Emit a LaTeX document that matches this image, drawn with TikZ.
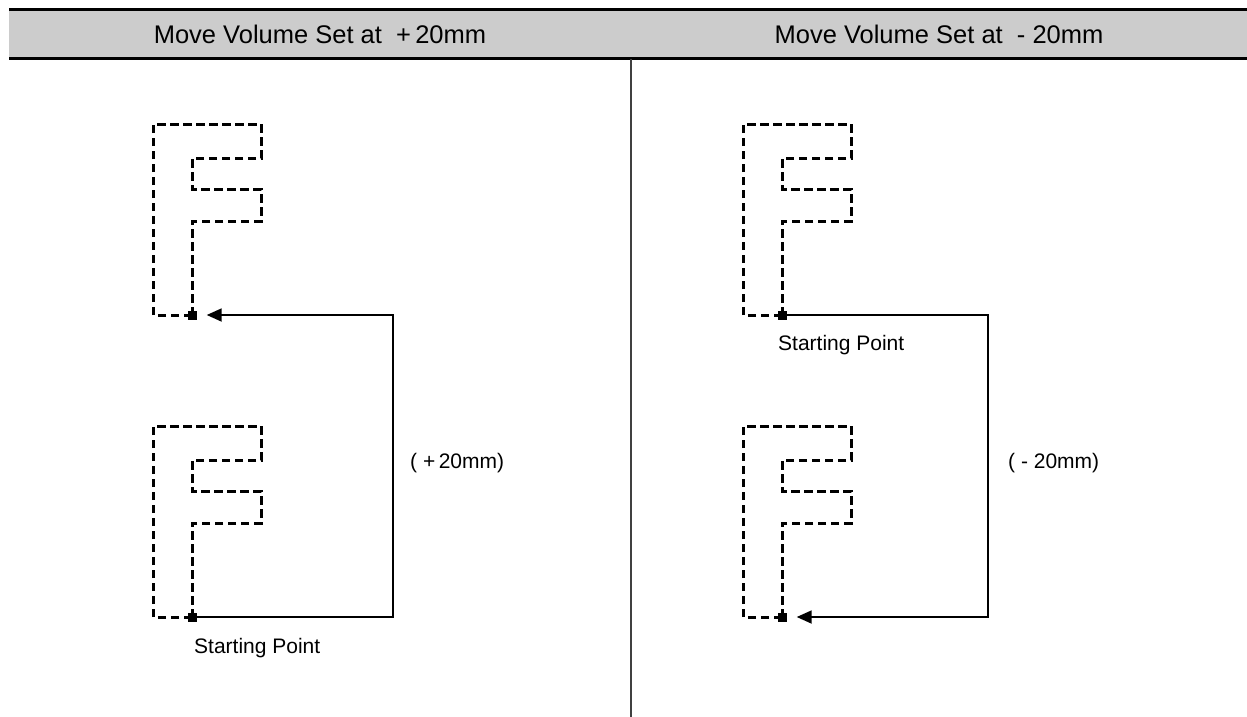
\documentclass[tikz,border=0pt]{standalone}
\usepackage{fontspec}
\setmainfont{Liberation Sans}
\usetikzlibrary{arrows.meta}
\newcommand{\fpath}[1]{\draw[fline] (#1) -- ++(-39,0) -- ++(0,-191) -- ++(108,0) -- ++(0,34) -- ++(-69,0) -- ++(0,31) -- ++(69,0) -- ++(0,32) -- ++(-69,0) -- cycle;}
\begin{document}
\begin{tikzpicture}[x=1pt, y=-1pt,
    fline/.style={line width=3pt, dash pattern=on 8.5pt off 4.5pt},
    spot/.style={rectangle, fill, minimum size=9pt, inner sep=0pt},
    link/.style={line width=1.8pt, -{Triangle[length=15pt,width=13pt]}, shorten >=10pt},
    head/.style={font=\fontsize{25.5}{30}\selectfont},
    note/.style={font=\fontsize{21}{25}\selectfont, inner sep=0pt}]
    \useasboundingbox (0,0) rectangle (1247,717);
    % header
    \fill[black!20] (9,10) rectangle (1247,59);
    \draw[line width=3pt] (9,10) -- (1247,10);
    \draw[line width=3pt] (9,59) -- (1247,59);
    \draw[line width=1.6pt, black!75] (631,59) -- (631,717);
    \node[head] (hL) at (320,34) {Move Volume Set at\ \ +\,20mm};
    \node[head] (hR) at (939,34) {Move Volume Set at\ \ -\ 20mm};
    % the F outlines
    \fpath{192,315}
    \fpath{192,617}
    \fpath{782,315}
    \fpath{782,617}
    % starting points
    \node[spot] (sA) at (192,315) {};
    \node[spot] (sB) at (192,617) {};
    \node[spot] (sC) at (782,315) {};
    \node[spot] (sD) at (782,617) {};
    \coordinate (cA) at (393,315);
    \coordinate (cB) at (393,617);
    \coordinate (cC) at (988,315);
    \coordinate (cD) at (988,617);
    \draw[link] (sB) -- (cB) -- (cA) -- (sA);
    \draw[link] (sC) -- (cC) -- (cD) -- (sD);
    % labels
    \node[note, anchor=west] (dA) at (410,463) {( +\,20mm)};
    \node[note, anchor=west] (dB) at (1008,463) {( -\ 20mm)};
    \node[note, anchor=west] (pA) at (194,648) {Starting Point};
    \node[note, anchor=west] (pC) at (778,345) {Starting Point};
\end{tikzpicture}
\end{document}
